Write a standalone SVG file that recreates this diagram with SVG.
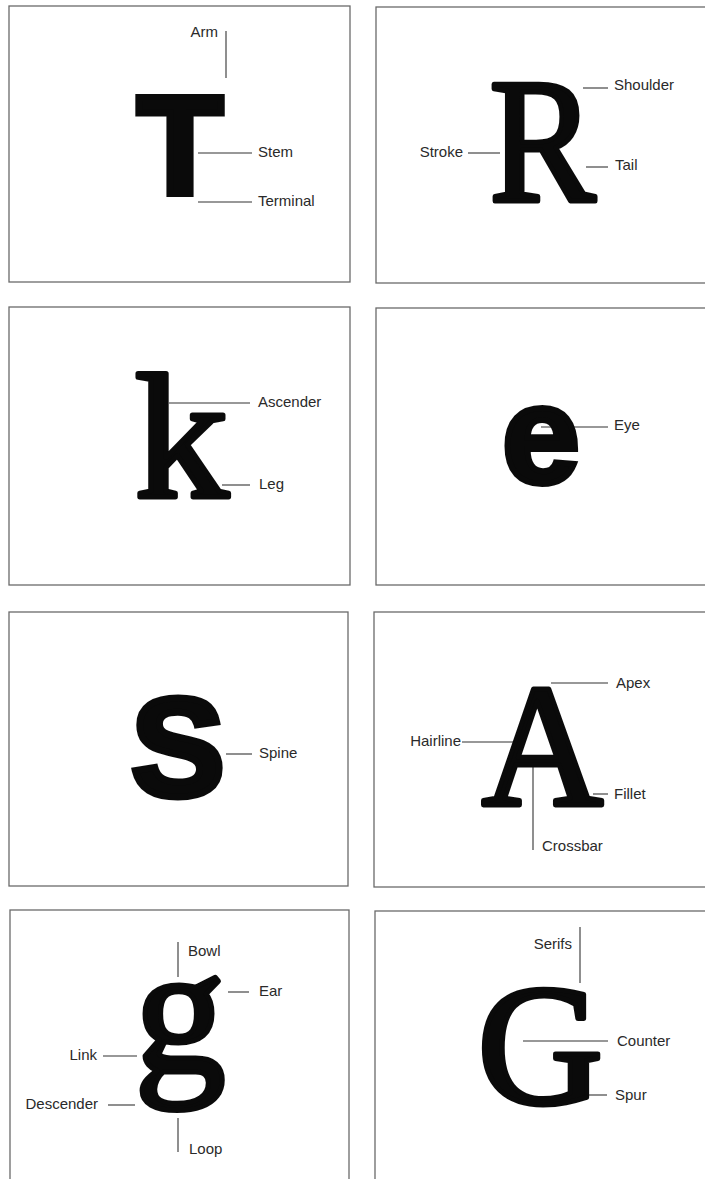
<svg xmlns="http://www.w3.org/2000/svg" width="705" height="1179" viewBox="0 0 705 1179">
<rect width="705" height="1179" fill="#fff"/>
<g id="connectors" stroke="#333" stroke-width="1.1">
<line x1="226" y1="31" x2="226" y2="78"/>
<line x1="198" y1="153" x2="252" y2="153"/>
<line x1="198" y1="202" x2="252" y2="202"/>
<line x1="583" y1="88" x2="608" y2="88"/>
<line x1="468" y1="153" x2="500" y2="153"/>
<line x1="586" y1="167" x2="608" y2="167"/>
<line x1="169" y1="403" x2="250" y2="403"/>
<line x1="222" y1="485" x2="250" y2="485"/>
<line x1="541" y1="427" x2="608" y2="427"/>
<line x1="226" y1="754" x2="252" y2="754"/>
<line x1="551" y1="683" x2="608" y2="683"/>
<line x1="462" y1="742" x2="514" y2="742"/>
<line x1="533" y1="767" x2="533" y2="850"/>
<line x1="593" y1="794" x2="608" y2="794"/>
<line x1="178" y1="942" x2="178" y2="977"/>
<line x1="228" y1="992" x2="249" y2="992"/>
<line x1="103" y1="1056" x2="137" y2="1056"/>
<line x1="108" y1="1105" x2="135" y2="1105"/>
<line x1="178" y1="1118" x2="178" y2="1152"/>
<line x1="580" y1="927" x2="580" y2="983"/>
<line x1="523" y1="1041" x2="608" y2="1041"/>
<line x1="588" y1="1095" x2="607" y2="1095"/>
</g>
<g id="panel-T">
<rect x="9" y="6" width="341" height="276" fill="none" stroke="#6a6a6a" stroke-width="1.3"/>
<text x="137.2" y="193" font-size="140" font-family="Liberation Sans" font-weight="bold" fill="#0a0a0a" stroke="#0a0a0a" stroke-width="7">T</text>
<g font-family="Liberation Sans" font-size="15" fill="#2a2a2a">
<text x="218" y="37" text-anchor="end">Arm</text>
<text x="258" y="157">Stem</text>
<text x="258" y="206">Terminal</text>
</g>
</g>
<g id="panel-R">
<rect x="376" y="7" width="340" height="276" fill="none" stroke="#6a6a6a" stroke-width="1.3"/>
<text x="0" y="0" text-anchor="middle" font-size="120" font-family="Liberation Serif" fill="#0a0a0a" stroke="#0a0a0a" stroke-width="3.4" stroke-linejoin="round" transform="translate(542.5,200.5) scale(1.328,1.475)">R</text>
<g font-family="Liberation Sans" font-size="15" fill="#2a2a2a">
<text x="614" y="90">Shoulder</text>
<text x="463" y="157" text-anchor="end">Stroke</text>
<text x="615" y="170">Tail</text>
</g>
</g>
<g id="panel-k">
<rect x="9" y="307" width="341" height="278" fill="none" stroke="#6a6a6a" stroke-width="1.3"/>
<text x="0" y="0" text-anchor="middle" font-size="120" font-family="Liberation Serif" fill="#0a0a0a" stroke="#0a0a0a" stroke-width="3.35" stroke-linejoin="round" transform="translate(181.4,496.5) scale(1.566,1.4917)">k</text>
<g font-family="Liberation Sans" font-size="15" fill="#2a2a2a">
<text x="258" y="407">Ascender</text>
<text x="259" y="489">Leg</text>
</g>
</g>
<g id="panel-e">
<rect x="376" y="308" width="340" height="277" fill="none" stroke="#6a6a6a" stroke-width="1.3"/>
<text x="502.1" y="482.6" font-size="140" font-family="Liberation Sans" font-weight="bold" fill="#0a0a0a" stroke="#0a0a0a" stroke-width="6">e</text>
<g font-family="Liberation Sans" font-size="15" fill="#2a2a2a">
<text x="614" y="430">Eye</text>
</g>
</g>
<g id="panel-S">
<rect x="9" y="612" width="339" height="274" fill="none" stroke="#6a6a6a" stroke-width="1.3"/>
<text x="131.3" y="795.6" font-size="140" font-family="Liberation Sans" font-weight="bold" fill="#0a0a0a" stroke="#0a0a0a" stroke-width="7">S</text>
<g font-family="Liberation Sans" font-size="15" fill="#2a2a2a">
<text x="259" y="758">Spine</text>
</g>
</g>
<g id="panel-A">
<rect x="374" y="612" width="340" height="275" fill="none" stroke="#6a6a6a" stroke-width="1.3"/>
<text x="0" y="0" text-anchor="middle" font-size="120" font-family="Liberation Serif" fill="#0a0a0a" stroke="#0a0a0a" stroke-width="3.4" stroke-linejoin="round" transform="translate(542.5,804.5) scale(1.4,1.4583)">A</text>
<g font-family="Liberation Sans" font-size="15" fill="#2a2a2a">
<text x="616" y="688">Apex</text>
<text x="461" y="746" text-anchor="end">Hairline</text>
<text x="542" y="851">Crossbar</text>
<text x="614" y="799">Fillet</text>
</g>
</g>
<g id="panel-g">
<rect x="10" y="910" width="339" height="300" fill="none" stroke="#6a6a6a" stroke-width="1.3"/>
<text x="0" y="0" text-anchor="middle" font-size="120" font-family="Liberation Serif" fill="#0a0a0a" stroke="#0a0a0a" stroke-width="3.3" stroke-linejoin="round" transform="translate(180,1070.6) scale(1.525,1.525)">g</text>
<g font-family="Liberation Sans" font-size="15" fill="#2a2a2a">
<text x="188" y="956">Bowl</text>
<text x="259" y="996">Ear</text>
<text x="97" y="1060" text-anchor="end">Link</text>
<text x="98" y="1109" text-anchor="end">Descender</text>
<text x="189" y="1154">Loop</text>
</g>
</g>
<g id="panel-G">
<rect x="375" y="911" width="340" height="300" fill="none" stroke="#6a6a6a" stroke-width="1.3"/>
<text x="0" y="0" text-anchor="middle" font-size="120" font-family="Liberation Serif" fill="#0a0a0a" stroke="#0a0a0a" stroke-width="3.5" stroke-linejoin="round" transform="translate(540.1,1103) scale(1.4535,1.425)">G</text>
<g font-family="Liberation Sans" font-size="15" fill="#2a2a2a">
<text x="572" y="949" text-anchor="end">Serifs</text>
<text x="617" y="1046">Counter</text>
<text x="615" y="1100">Spur</text>
</g>
</g>
</svg>
